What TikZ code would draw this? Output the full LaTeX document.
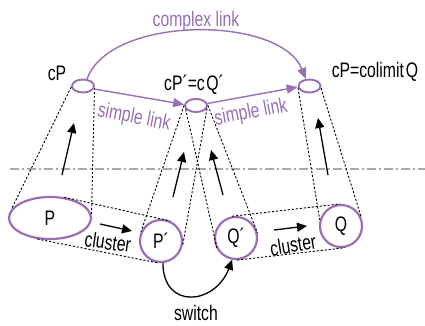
\documentclass[tikz,border=0pt]{standalone}
\usepackage{fontspec}
\setmainfont{Liberation Sans}[FakeStretch=0.75]
\usetikzlibrary{arrows.meta,shapes.geometric}
\definecolor{lpurple}{RGB}{152,110,180}
\definecolor{lgray}{RGB}{168,168,168}
\begin{document}
\begin{tikzpicture}[x=1pt,y=-1pt,
  txt/.style={font=\fontsize{21}{24}\selectfont,inner sep=0pt},
  ptxt/.style={txt,text=lpurple},
  topell/.style={draw=lpurple,line width=1.9pt,ellipse,minimum width=22pt,minimum height=13pt,inner sep=0pt},
  botcirc/.style={draw=lpurple,line width=2.2pt,circle,minimum size=42pt,inner sep=0pt,font=\fontsize{21}{24}\selectfont},
  dots/.style={black,line width=0.9pt,dash pattern=on 2.2pt off 1.8pt},
  arr/.style={black,line width=1.3pt,-{Triangle[length=10pt,width=9pt]}},
  parr/.style={lpurple,line width=1.4pt,-{Triangle[length=11pt,width=9pt]}},
]
\useasboundingbox (0,0) rectangle (425,325);

% nodes
\node[topell] (cP) at (83,86) {};
\node[topell] (cPQ) at (196,105.5) {};
\node[topell] (cC) at (309.5,86) {};
\node[draw=lpurple,line width=2.2pt,ellipse,minimum width=82pt,minimum height=42pt,inner sep=0pt,font=\fontsize{21}{24}\selectfont] (P) at (50,218) {P};
\node[botcirc] (Pp) at (161,241) {P´};
\node[botcirc] (Qp) at (236,238) {Q´};
\node[botcirc] (Q) at (341,226) {Q};

% labels
\node[txt] (lcP) at (57,73) {cP};
\node[txt] (lcPQ) at (194,85) {cP´=c\kern1.5pt Q´};
\node[txt] (lcC) at (375,72) {cP=colimit\kern2pt Q};
\node[ptxt] (lcomplex) at (196,21) {complex link};
\node[ptxt,rotate=-11] (ls1) at (134,118) {simple link};
\node[ptxt,rotate=10.5] (ls2) at (251,113) {simple link};
\node[txt,rotate=-8] (lcl1) at (108,242) {cluster};
\node[txt,rotate=9] (lcl2) at (293,245) {cluster};
\node[txt] (lsw) at (196,313) {switch};

% dash-dot separator
\coordinate (sepL) at (10,169);
\coordinate (sepR) at (425,169);
\draw[lgray,line width=1.8pt,dash pattern=on 9pt off 3pt on 2pt off 3pt] (sepL) -- (sepR);

% projection cones
\draw[dots] (cP.185) -- (P.167);
\draw[dots] (cP.-10) -- (P.5);
\draw[dots] (cPQ.180) -- (Pp.156);
\draw[dots] (cPQ.200) -- (Qp.212);
\draw[dots] (cPQ.-15) -- (Pp.-10);
\draw[dots] (cPQ.0) -- (Qp.13);
\draw[dots] (cC.190) -- (Q.164);
\draw[dots] (cC.350) -- (Q.23);

% cluster bands
\draw[dots] (P.56) -- (Pp.65);
\draw[dots] (P.239) -- (Pp.262);
\draw[dots] (Qp.100) -- (Q.93);
\draw[dots] (Qp.273) -- (Q.281);

% vertical arrows
\coordinate (a1s) at (62,175); \coordinate (a1e) at (74,123);
\coordinate (a2s) at (173,197); \coordinate (a2e) at (184,152);
\coordinate (a3s) at (223,195); \coordinate (a3e) at (211,150);
\coordinate (a4s) at (328,175); \coordinate (a4e) at (318,118);
\draw[arr] (a1s) -- (a1e);
\draw[arr] (a2s) -- (a2e);
\draw[arr] (a3s) -- (a3e);
\draw[arr] (a4s) -- (a4e);

% cluster arrows
\coordinate (c1s) at (100,224); \coordinate (c1e) at (132,231);
\coordinate (c2s) at (274,230); \coordinate (c2e) at (307,226);
\draw[arr] (c1s) -- (c1e);
\draw[arr] (c2s) -- (c2e);

% switch
\draw[arr] (Pp.-85) .. controls (163,310) and (215,305) .. (Qp.-100);

% links
\draw[parr] (cP.60) .. controls (110,15) and (280,15) .. (cC.117);
\draw[parr] (cP.-15) -- (cPQ.175);
\draw[parr] (cPQ.10) -- (cC.185);
\end{tikzpicture}
\end{document}
